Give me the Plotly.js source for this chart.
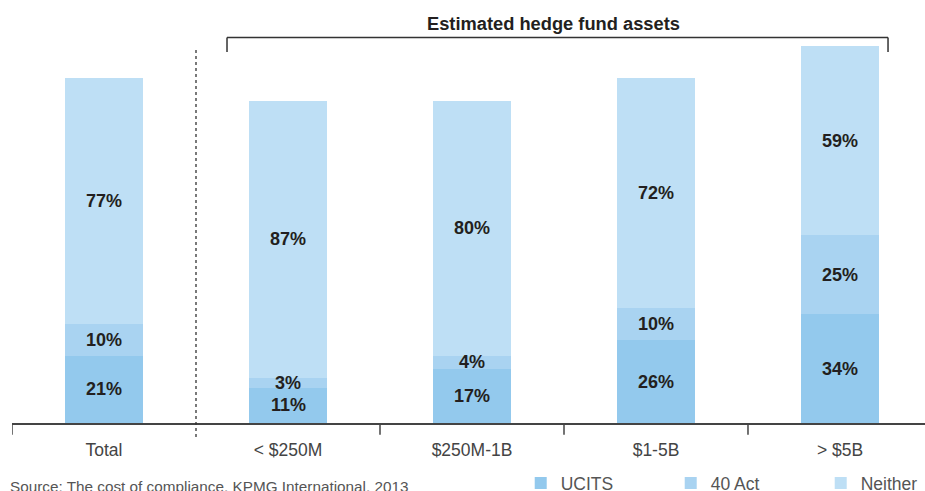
<!DOCTYPE html>
<html>
<head>
<meta charset="utf-8">
<script src="https://cdn.plot.ly/plotly-3.0.1.min.js"></script>
<style>html,body{margin:0;padding:0;background:#fff;}#chart{width:925px;height:491px;}</style>
</head>
<body>
<div id="chart"></div>
<script>
const categories = ["Total", "< $250M", "$250M-1B", "$1-5B", "> $5B"];
const seriesNames = ["UCITS", "40 Act", "Neither"];
const ucits = [21, 11, 17, 26, 34];
const act40 = [10, 3, 4, 10, 25];
const neither = [77, 87, 80, 72, 59];
const colors = ["#93c9ed", "#a9d3f1", "#bedff5"];
const groupTitle = "Estimated hedge fund assets";
const sourceText = "Source: The cost of compliance, KPMG International, 2013";

const FONT = "'Liberation Sans', Arial, Helvetica, sans-serif";
const series = [ucits, act40, neither];

const traces = series.map((vals, s) => ({
  type: "bar",
  name: seriesNames[s],
  x: categories,
  y: vals,
  marker: {color: colors[s], line: {width: 0}},
  hoverinfo: "skip"
}));

const annotations = [];
categories.forEach((c, i) => {
  let base = 0;
  series.forEach((vals, s) => {
    annotations.push({
      x: c, y: base + vals[i] / 2, xref: "x", yref: "y",
      text: vals[i] + "%", showarrow: false,
      font: {family: FONT, size: 18, color: "#231f20", weight: "bold"}
    });
    base += vals[i];
  });
});
annotations.push({
  x: 0.5936, y: 1.044, xref: "paper", yref: "paper", xanchor: "center", yanchor: "middle",
  text: groupTitle, showarrow: false,
  font: {family: FONT, size: 18.3, color: "#231f20", weight: "bold"}
});
annotations.push({
  x: -0.0044, y: -0.165, xref: "paper", yref: "paper", xanchor: "left", yanchor: "middle",
  text: sourceText, showarrow: false,
  font: {family: FONT, size: 15.3, color: "#555555"}
});

const lineCol = "#333333";
const shapes = [
  {type: "line", xref: "x", yref: "paper", x0: 0.5, x1: 0.5, y0: -0.0366, y1: 0.982,
   line: {color: lineCol, width: 1.3, dash: "dot"}},
  {type: "line", xref: "paper", yref: "paper", x0: 0.2355, x1: 0.9595, y0: 1.0065, y1: 1.0065,
   line: {color: lineCol, width: 1.5}},
  {type: "line", xref: "paper", yref: "paper", x0: 0.2355, x1: 0.2355, y0: 1.0065, y1: 0.9687,
   line: {color: lineCol, width: 1.5}},
  {type: "line", xref: "paper", yref: "paper", x0: 0.9595, x1: 0.9595, y0: 1.0065, y1: 0.9687,
   line: {color: lineCol, width: 1.5}}
];
[-0.5, 1.5, 2.5, 3.5].forEach(b => {
  shapes.push({type: "line", xref: "x", yref: "paper", x0: b, x1: b, y0: 0, y1: -0.031,
    line: {color: "#444444", width: 1.5}});
});

const layout = {
  width: 925, height: 491,
  margin: {l: 12, r: 0, t: 40, b: 68, autoexpand: false},
  paper_bgcolor: "#ffffff", plot_bgcolor: "#ffffff",
  barmode: "stack",
  bargap: 0.576,
  showlegend: true,
  legend: {
    orientation: "h", x: 0.5572, y: -0.157, xanchor: "left", yanchor: "middle",
    font: {family: FONT, size: 17.5, color: "#555555"},
    traceorder: "normal", entrywidth: 105, entrywidthmode: "pixels",
    bgcolor: "rgba(0,0,0,0)"
  },
  xaxis: {
    type: "category", range: [-0.5, 4.462], fixedrange: true,
    showline: true, linecolor: "#444444", linewidth: 1.5,
    ticks: "", showgrid: false, zeroline: false,
    ticklabelstandoff: 10,
    tickfont: {family: FONT, size: 17.5, color: "#444444"}
  },
  yaxis: {
    range: [0, 120], showgrid: false, zeroline: false, showline: false,
    showticklabels: false, ticks: "", fixedrange: true
  },
  annotations: annotations,
  shapes: shapes,
  hovermode: false
};

Plotly.newPlot("chart", traces, layout, {displayModeBar: false, staticPlot: true});
</script>
</body>
</html>
